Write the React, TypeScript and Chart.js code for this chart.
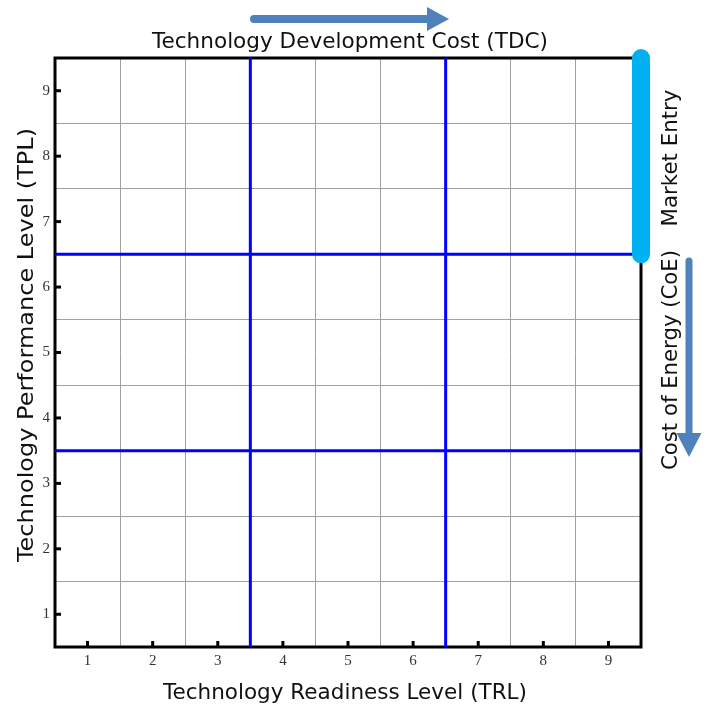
import React, { useEffect, useRef } from "react";
import { Chart, registerables } from "chart.js";

Chart.register(...registerables);

const xTickValues = [1, 2, 3, 4, 5, 6, 7, 8, 9];
const yTickValues = [1, 2, 3, 4, 5, 6, 7, 8, 9];
const axisMin = 0.5;
const axisMax = 9.5;
const dividerValues = [3.5, 6.5];
const marketEntryRange = [6.5, 9.5];

const xTitle = "Technology Readiness Level (TRL)";
const yTitle = "Technology Performance Level (TPL)";
const topTitle = "Technology Development Cost (TDC)";
const marketLabel = "Market Entry";
const coeLabel = "Cost of Energy (CoE)";

const SANS = "'DejaVu Sans', Verdana, sans-serif";
const SERIF = "'Liberation Serif', 'Times New Roman', serif";

function halfTicks() {
  const out: { value: number }[] = [];
  for (let v = axisMin; v <= axisMax + 1e-9; v += 0.5) out.push({ value: v });
  return out;
}

function gridColor(ctx: any) {
  const v = ctx.tick ? ctx.tick.value : 0;
  if (v <= axisMin || v >= axisMax) return "rgba(0,0,0,0)";
  return Number.isInteger(v) ? "rgba(0,0,0,0)" : "#a0a0a0";
}

// draw text centred at (cx, baseline) fitted to a given width; rotated = -90deg
function fitText(ctx: CanvasRenderingContext2D, text: string, cx: number, cy: number, width: number, rotated: boolean) {
  ctx.save();
  ctx.translate(cx, cy);
  if (rotated) ctx.rotate(-Math.PI / 2);
  const w = ctx.measureText(text).width;
  ctx.scale(width / w, 1);
  ctx.textAlign = "center";
  ctx.textBaseline = "alphabetic";
  ctx.fillText(text, 0, 0);
  ctx.restore();
}

const decorPlugin = {
  id: "decor",
  beforeDatasetsDraw(chart: any) {
    const { ctx, chartArea: a, scales } = chart;
    const xs = scales.x;
    const ys = scales.y;
    ctx.save();
    ctx.strokeStyle = "#000";
    ctx.lineWidth = 3;
    ctx.strokeRect(a.left, a.top, a.right - a.left, a.bottom - a.top);
    xTickValues.forEach((v) => {
      const px = xs.getPixelForValue(v);
      ctx.beginPath();
      ctx.moveTo(px, a.bottom);
      ctx.lineTo(px, a.bottom - 6);
      ctx.stroke();
    });
    yTickValues.forEach((v) => {
      const py = ys.getPixelForValue(v);
      ctx.beginPath();
      ctx.moveTo(a.left, py);
      ctx.lineTo(a.left + 6, py);
      ctx.stroke();
    });
    ctx.restore();
  },
  afterDraw(chart: any) {
    const { ctx, chartArea: a } = chart;
    ctx.save();
    ctx.fillStyle = "#111";
    ctx.font = `21px ${SANS}`;
    fitText(ctx, topTitle, a.left + 295, a.top - 10, 396, false);
    fitText(ctx, xTitle, a.left + 290, a.bottom + 52, 364, false);
    fitText(ctx, yTitle, a.left - 22, a.top + 287, 434, true);
    fitText(ctx, marketLabel, a.right + 36, a.top + 100, 137, true);
    fitText(ctx, coeLabel, a.right + 36, a.top + 302, 220, true);

    const arrowColor = "#4f81bd";
    ctx.fillStyle = arrowColor;
    ctx.strokeStyle = arrowColor;
    ctx.lineCap = "round";
    // top arrow (pointing right)
    const ty = a.top - 39;
    const tx0 = a.left + 199;
    const tx1 = a.left + 394;
    ctx.lineWidth = 8;
    ctx.beginPath();
    ctx.moveTo(tx0, ty);
    ctx.lineTo(tx1 - 20, ty);
    ctx.stroke();
    ctx.beginPath();
    ctx.moveTo(tx1, ty);
    ctx.lineTo(tx1 - 22, ty - 12);
    ctx.lineTo(tx1 - 22, ty + 12);
    ctx.closePath();
    ctx.fill();
    // right arrow (pointing down)
    const rx = a.right + 48;
    const ry0 = a.top + 203;
    const ry1 = a.top + 399;
    ctx.lineWidth = 7;
    ctx.beginPath();
    ctx.moveTo(rx, ry0);
    ctx.lineTo(rx, ry1 - 20);
    ctx.stroke();
    ctx.beginPath();
    ctx.moveTo(rx, ry1);
    ctx.lineTo(rx - 12.5, ry1 - 24);
    ctx.lineTo(rx + 12.5, ry1 - 24);
    ctx.closePath();
    ctx.fill();
    ctx.restore();
  },
};

export default function App() {
  const ref = useRef<HTMLCanvasElement | null>(null);
  useEffect(() => {
    if (!ref.current) return;
    const datasets: any[] = [
      {
        label: "Market Entry",
        data: marketEntryRange.map((y) => ({ x: axisMax, y })),
        borderColor: "#00b0f0",
        borderWidth: 18,
        borderCapStyle: "round",
        showLine: true,
        pointRadius: 0,
        clip: false,
        order: 0,
      },
      ...dividerValues.map((v) => ({
        label: `x${v}`,
        data: [
          { x: v, y: axisMin },
          { x: v, y: axisMax },
        ],
        borderColor: "#0000ff",
        borderWidth: 3,
        showLine: true,
        pointRadius: 0,
        order: 1,
      })),
      ...dividerValues.map((v) => ({
        label: `y${v}`,
        data: [
          { x: axisMin, y: v },
          { x: axisMax, y: v },
        ],
        borderColor: "#0000ff",
        borderWidth: 3,
        showLine: true,
        pointRadius: 0,
        order: 1,
      })),
    ];
    const chart = new Chart(ref.current, {
      type: "scatter",
      data: { datasets },
      options: {
        animation: false,
        responsive: false,
        devicePixelRatio: 1,
        layout: { padding: { left: 0, top: 58, right: 66, bottom: 0 } },
        plugins: { legend: { display: false }, tooltip: { enabled: false } },
        scales: {
          x: {
            type: "linear",
            min: axisMin,
            max: axisMax,
            afterBuildTicks: (s: any) => {
              s.ticks = halfTicks();
            },
            afterFit: (s: any) => {
              s.height = 57;
            },
            ticks: {
              autoSkip: false,
              maxRotation: 0,
              padding: 5,
              color: "#333",
              font: { family: SERIF, size: 15 },
              callback: (v: any) => (Number.isInteger(v) ? String(v) : ""),
            },
            grid: { color: gridColor, lineWidth: 1, drawTicks: false },
            border: { display: false },
          },
          y: {
            type: "linear",
            min: axisMin,
            max: axisMax,
            afterBuildTicks: (s: any) => {
              s.ticks = halfTicks();
            },
            afterFit: (s: any) => {
              s.width = 55;
            },
            ticks: {
              autoSkip: false,
              padding: 5,
              color: "#333",
              font: { family: SERIF, size: 15 },
              callback: (v: any) => (Number.isInteger(v) ? String(v) : ""),
            },
            grid: { color: gridColor, lineWidth: 1, drawTicks: false },
            border: { display: false },
          },
        },
      },
      plugins: [decorPlugin],
    });
    return () => chart.destroy();
  }, []);
  return (
    <div style={{ position: "fixed", left: 0, top: 0, width: 707, height: 704, background: "#fff" }}>
      <canvas ref={ref} width={707} height={704} style={{ width: 707, height: 704 }} />
    </div>
  );
}
